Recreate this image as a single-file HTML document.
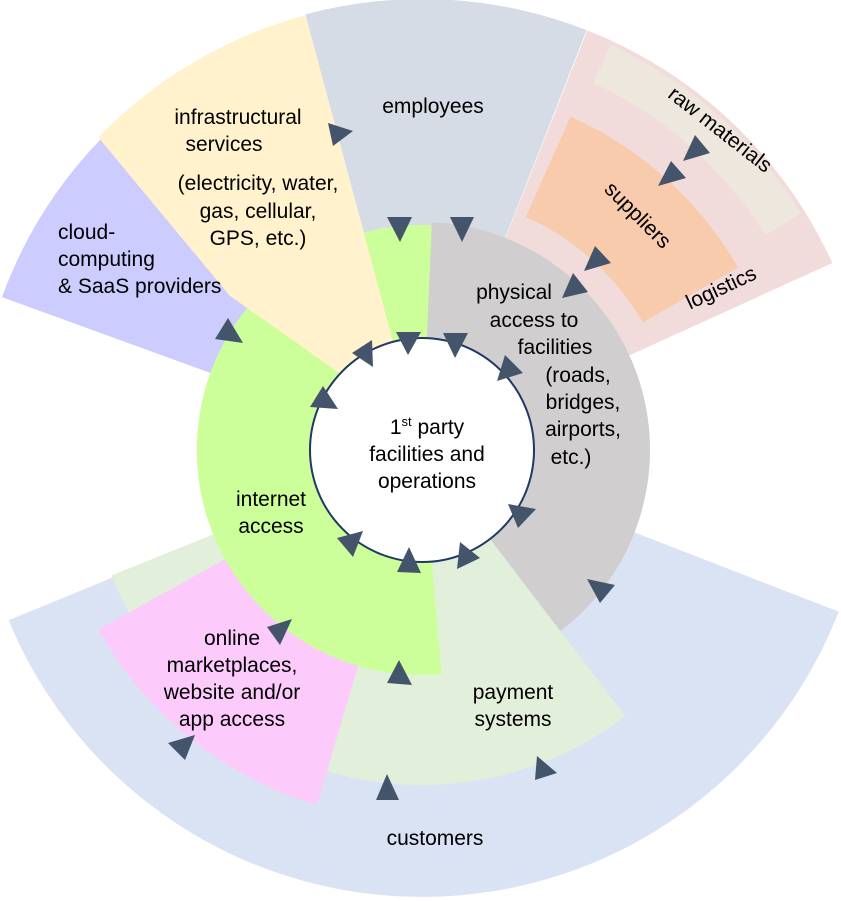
<!DOCTYPE html>
<html><head><meta charset="utf-8"><style>
html,body{margin:0;padding:0;background:#fff;}
svg{display:block;}
text{font-family:"Liberation Sans",sans-serif;font-size:21px;fill:#000;}
</style></head><body>
<svg id="s" width="841" height="901" viewBox="0 0 841 901" xmlns="http://www.w3.org/2000/svg">
<g id="shapes"></g>
<circle cx="422" cy="450" r="112" fill="#fff" stroke="#1f3864" stroke-width="2"/>
<g fill="#44546a">
<polygon points="328,123 353,131 333,146"/>
<polygon points="387,217 412,217 400,242"/>
<polygon points="450,217 474,217 462,242"/>
<polygon points="695,135 710,153 683,161"/>
<polygon points="671,161 686,178 658,186"/>
<polygon points="595,246 611,263 584,271"/>
<polygon points="573,273 588,292 562,298"/>
<polygon points="505,355 523,373 497,381"/>
<polygon points="396,332 421,332 408,355"/>
<polygon points="443,333 468,333 455,358"/>
<polygon points="352,353 372,340 373,367"/>
<polygon points="323,386 338,409 310,407"/>
<polygon points="508,504 536,509 518,528"/>
<polygon points="337,538 363,531 353,557"/>
<polygon points="409,547 421,573 397,572"/>
<polygon points="460,542 480,558 457,569"/>
<polygon points="587,579 615,585 600,603"/>
<polygon points="228,318 243,343 215,339"/>
<polygon points="267,627 292,619 280,645"/>
<polygon points="399,660 412,685 387,683"/>
<polygon points="168,743 195,735 185,760"/>
<polygon points="537,756 557,773 535,780"/>
<polygon points="387,774 399,800 376,800"/>
</g>
<g text-anchor="middle">
<text x="433" y="113">employees</text>
<text x="238" y="124">infrastructural</text>
<text x="224" y="151">services</text>
<text x="258" y="190">(electricity, water,</text>
<text x="258" y="218">gas, cellular,</text>
<text x="258" y="245">GPS, etc.)</text>
<text x="514" y="299">physical</text>
<text x="534" y="327">access to</text>
<text x="555" y="354">facilities</text>
<text x="578" y="382">(roads,</text>
<text x="583" y="409">bridges,</text>
<text x="583" y="436">airports,</text>
<text x="571" y="464">etc.)</text>
<text x="427" y="434">1<tspan font-size="13" dy="-8">st</tspan><tspan dy="8"> party</tspan></text>
<text x="427" y="461">facilities and</text>
<text x="427" y="488">operations</text>
<text x="271" y="506">internet</text>
<text x="271" y="533">access</text>
<text x="232" y="645">online</text>
<text x="232" y="672">marketplaces,</text>
<text x="232" y="699">website and/or</text>
<text x="232" y="726">app access</text>
<text x="513" y="699">payment</text>
<text x="513" y="726">systems</text>
<text x="435" y="845">customers</text>
<text transform="translate(716,135) rotate(38)">raw materials</text>
<text transform="translate(633,220) rotate(45)">suppliers</text>
<text transform="translate(724,294) rotate(-25)">logistics</text>
</g>
<g text-anchor="start">
<text x="58" y="239">cloud-</text>
<text x="58" y="266">computing</text>
<text x="58" y="293">&amp; SaaS providers</text>
</g>
</svg>
<script>
(function(){
var cx=422,cy=450,NS="http://www.w3.org/2000/svg";
function P(r,a){a=a*Math.PI/180;return (cx+r*Math.cos(a)).toFixed(1)+","+(cy+r*Math.sin(a)).toFixed(1);}
function sec(r1,r2,a1,a2){
 var large=(a2-a1)>180?1:0;
 if(r1<=0) return "M"+cx+","+cy+" L"+P(r2,a1)+" A"+r2+","+r2+" 0 "+large+" 1 "+P(r2,a2)+" Z";
 return "M"+P(r1,a1)+" L"+P(r2,a1)+" A"+r2+","+r2+" 0 "+large+" 1 "+P(r2,a2)+" L"+P(r1,a2)+" A"+r1+","+r1+" 0 "+large+" 0 "+P(r1,a1)+" Z";
}
var g=document.getElementById("shapes");
function add(d,f){var p=document.createElementNS(NS,"path");p.setAttribute("d",d);p.setAttribute("fill",f);g.appendChild(p);}
add(sec(0,447,21.2,157.6),"#dae3f3");
add(sec(0,335,52.6,158),"#e2efda");
add(sec(225,370,106.5,151),"#fccbfc");
add(sec(0,451,255,291.4),"#d6dce5");
add(sec(228,451,291.5,335.5),"#f2dcdb");
add(sec(405,447,295,328),"#ede7de");
add(sec(255,365,294,330),"#f8cbad");
add(sec(225,447,200,224),"#ccccff");
add(sec(110,225,85,272.5),"#ccff99");
add(sec(110,228,272.5,412.6),"#d0cece");
var y="M"+P(450,224)+" A450,450 0 0 1 "+P(450,255)+" L"+P(112,255)+" L"+P(112,223)+" L230,296 Z";
add(y,"#fff2cc");
})();
</script>
</body></html>
